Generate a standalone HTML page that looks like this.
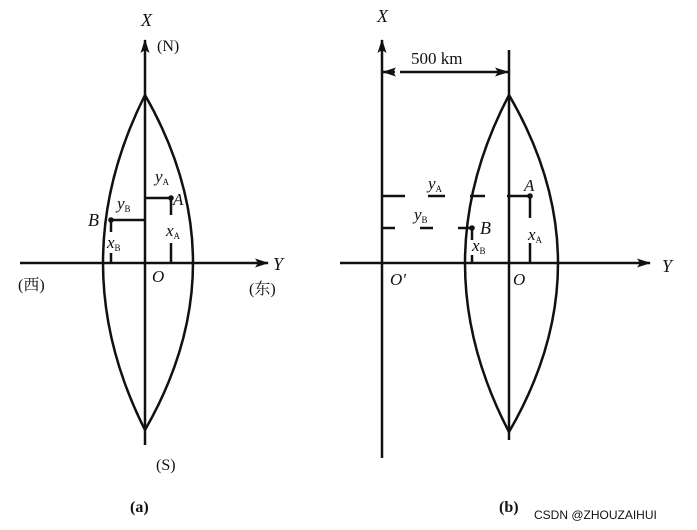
<!DOCTYPE html>
<html><head><style>
body{margin:0;background:#fff;}
svg{display:block;}
text{font-family:"Liberation Serif","Noto Serif CJK SC",serif;fill:#111;}
.i{font-style:italic;}
</style></head><body>
<svg width="697" height="530" viewBox="0 0 697 530" xmlns="http://www.w3.org/2000/svg">
<defs>
<marker id="ar" markerWidth="14" markerHeight="9" refX="13" refY="4.5" orient="auto" markerUnits="userSpaceOnUse">
<path d="M0,0 L14,4.5 L0,9 L3,4.5 Z" fill="#111"/></marker>
</defs>
<g stroke="#111" stroke-width="2.5" fill="none">
<!-- (a) -->
<line x1="145" y1="445" x2="145" y2="40" marker-end="url(#ar)"/>
<line x1="20" y1="263" x2="268" y2="263" marker-end="url(#ar)"/>
<path d="M145,95 Q61,263 145,430"/>
<path d="M145,95 Q241,263 145,430"/>
<line x1="145" y1="198" x2="171" y2="198"/>
<line x1="171" y1="198" x2="171" y2="215"/>
<line x1="171" y1="243" x2="171" y2="263"/>
<line x1="111" y1="220" x2="145" y2="220"/>
<line x1="111" y1="222" x2="111" y2="232"/>
<line x1="111" y1="253" x2="111" y2="263"/>
<!-- (b) -->
<line x1="382" y1="458" x2="382" y2="40" marker-end="url(#ar)"/>
<line x1="509" y1="50" x2="509" y2="440"/>
<line x1="340" y1="263" x2="650" y2="263" marker-end="url(#ar)"/>
<line x1="395" y1="72" x2="383" y2="72" marker-end="url(#ar)"/>
<line x1="400" y1="72" x2="508" y2="72" marker-end="url(#ar)"/>
<path d="M509,95 Q421,263 509,432"/>
<path d="M509,95 Q607,263 509,432"/>
<line x1="383" y1="196" x2="405" y2="196"/>
<line x1="428" y1="196" x2="445" y2="196"/>
<line x1="470" y1="196" x2="485" y2="196"/>
<line x1="507" y1="196" x2="530" y2="196"/>
<line x1="530" y1="196" x2="530" y2="218"/>
<line x1="530" y1="243" x2="530" y2="263"/>
<line x1="383" y1="228" x2="395" y2="228"/>
<line x1="420" y1="228" x2="433" y2="228"/>
<line x1="458" y1="228" x2="474" y2="228"/>
<line x1="472" y1="230" x2="472" y2="240"/>
<line x1="472" y1="255" x2="472" y2="263"/>
</g>
<g fill="#111">
<circle cx="171" cy="198" r="2.8"/><circle cx="111" cy="220" r="2.8"/>
<circle cx="530" cy="196" r="2.8"/><circle cx="472" cy="228" r="2.8"/>
</g>
<g font-size="18">
<text x="141" y="26" class="i">X</text>
<text x="157" y="51" font-size="16">(N)</text>
<text x="273" y="270" class="i">Y</text>
<text x="18" y="290" font-size="16">(西)</text>
<text x="249" y="294" font-size="16">(东)</text>
<text x="152" y="282" class="i" font-size="17">O</text>
<text x="155" y="182" class="i" font-size="17">y<tspan font-size="9" dy="3" font-style="normal">A</tspan></text>
<text x="117" y="209" class="i" font-size="17">y<tspan font-size="9" dy="3" font-style="normal">B</tspan></text>
<text x="173" y="205" class="i" font-size="17">A</text>
<text x="88" y="226" class="i" font-size="18">B</text>
<text x="166" y="236" class="i" font-size="17">x<tspan font-size="9" dy="3" font-style="normal">A</tspan></text>
<text x="107" y="248" class="i" font-size="17">x<tspan font-size="9" dy="3" font-style="normal">B</tspan></text>
<text x="156" y="470" font-size="16">(S)</text>
<text x="130" y="512" font-size="16" font-weight="bold">(a)</text>

<text x="377" y="22" class="i">X</text>
<text x="411" y="64" font-size="17">500 km</text>
<text x="662" y="272" class="i">Y</text>
<text x="390" y="285" class="i" font-size="17">O'</text>
<text x="513" y="285" class="i" font-size="17">O</text>
<text x="428" y="189" class="i" font-size="17">y<tspan font-size="9" dy="3" font-style="normal">A</tspan></text>
<text x="414" y="220" class="i" font-size="17">y<tspan font-size="9" dy="3" font-style="normal">B</tspan></text>
<text x="524" y="191" class="i" font-size="17">A</text>
<text x="480" y="234" class="i" font-size="18">B</text>
<text x="528" y="240" class="i" font-size="17">x<tspan font-size="9" dy="3" font-style="normal">A</tspan></text>
<text x="472" y="251" class="i" font-size="17">x<tspan font-size="9" dy="3" font-style="normal">B</tspan></text>
<text x="499" y="512" font-size="16" font-weight="bold">(b)</text>
<text x="534" y="519" font-size="12" style="font-family:'Liberation Sans',sans-serif" fill="#555">CSDN @ZHOUZAIHUI</text>
</g>
</svg>
</body></html>
